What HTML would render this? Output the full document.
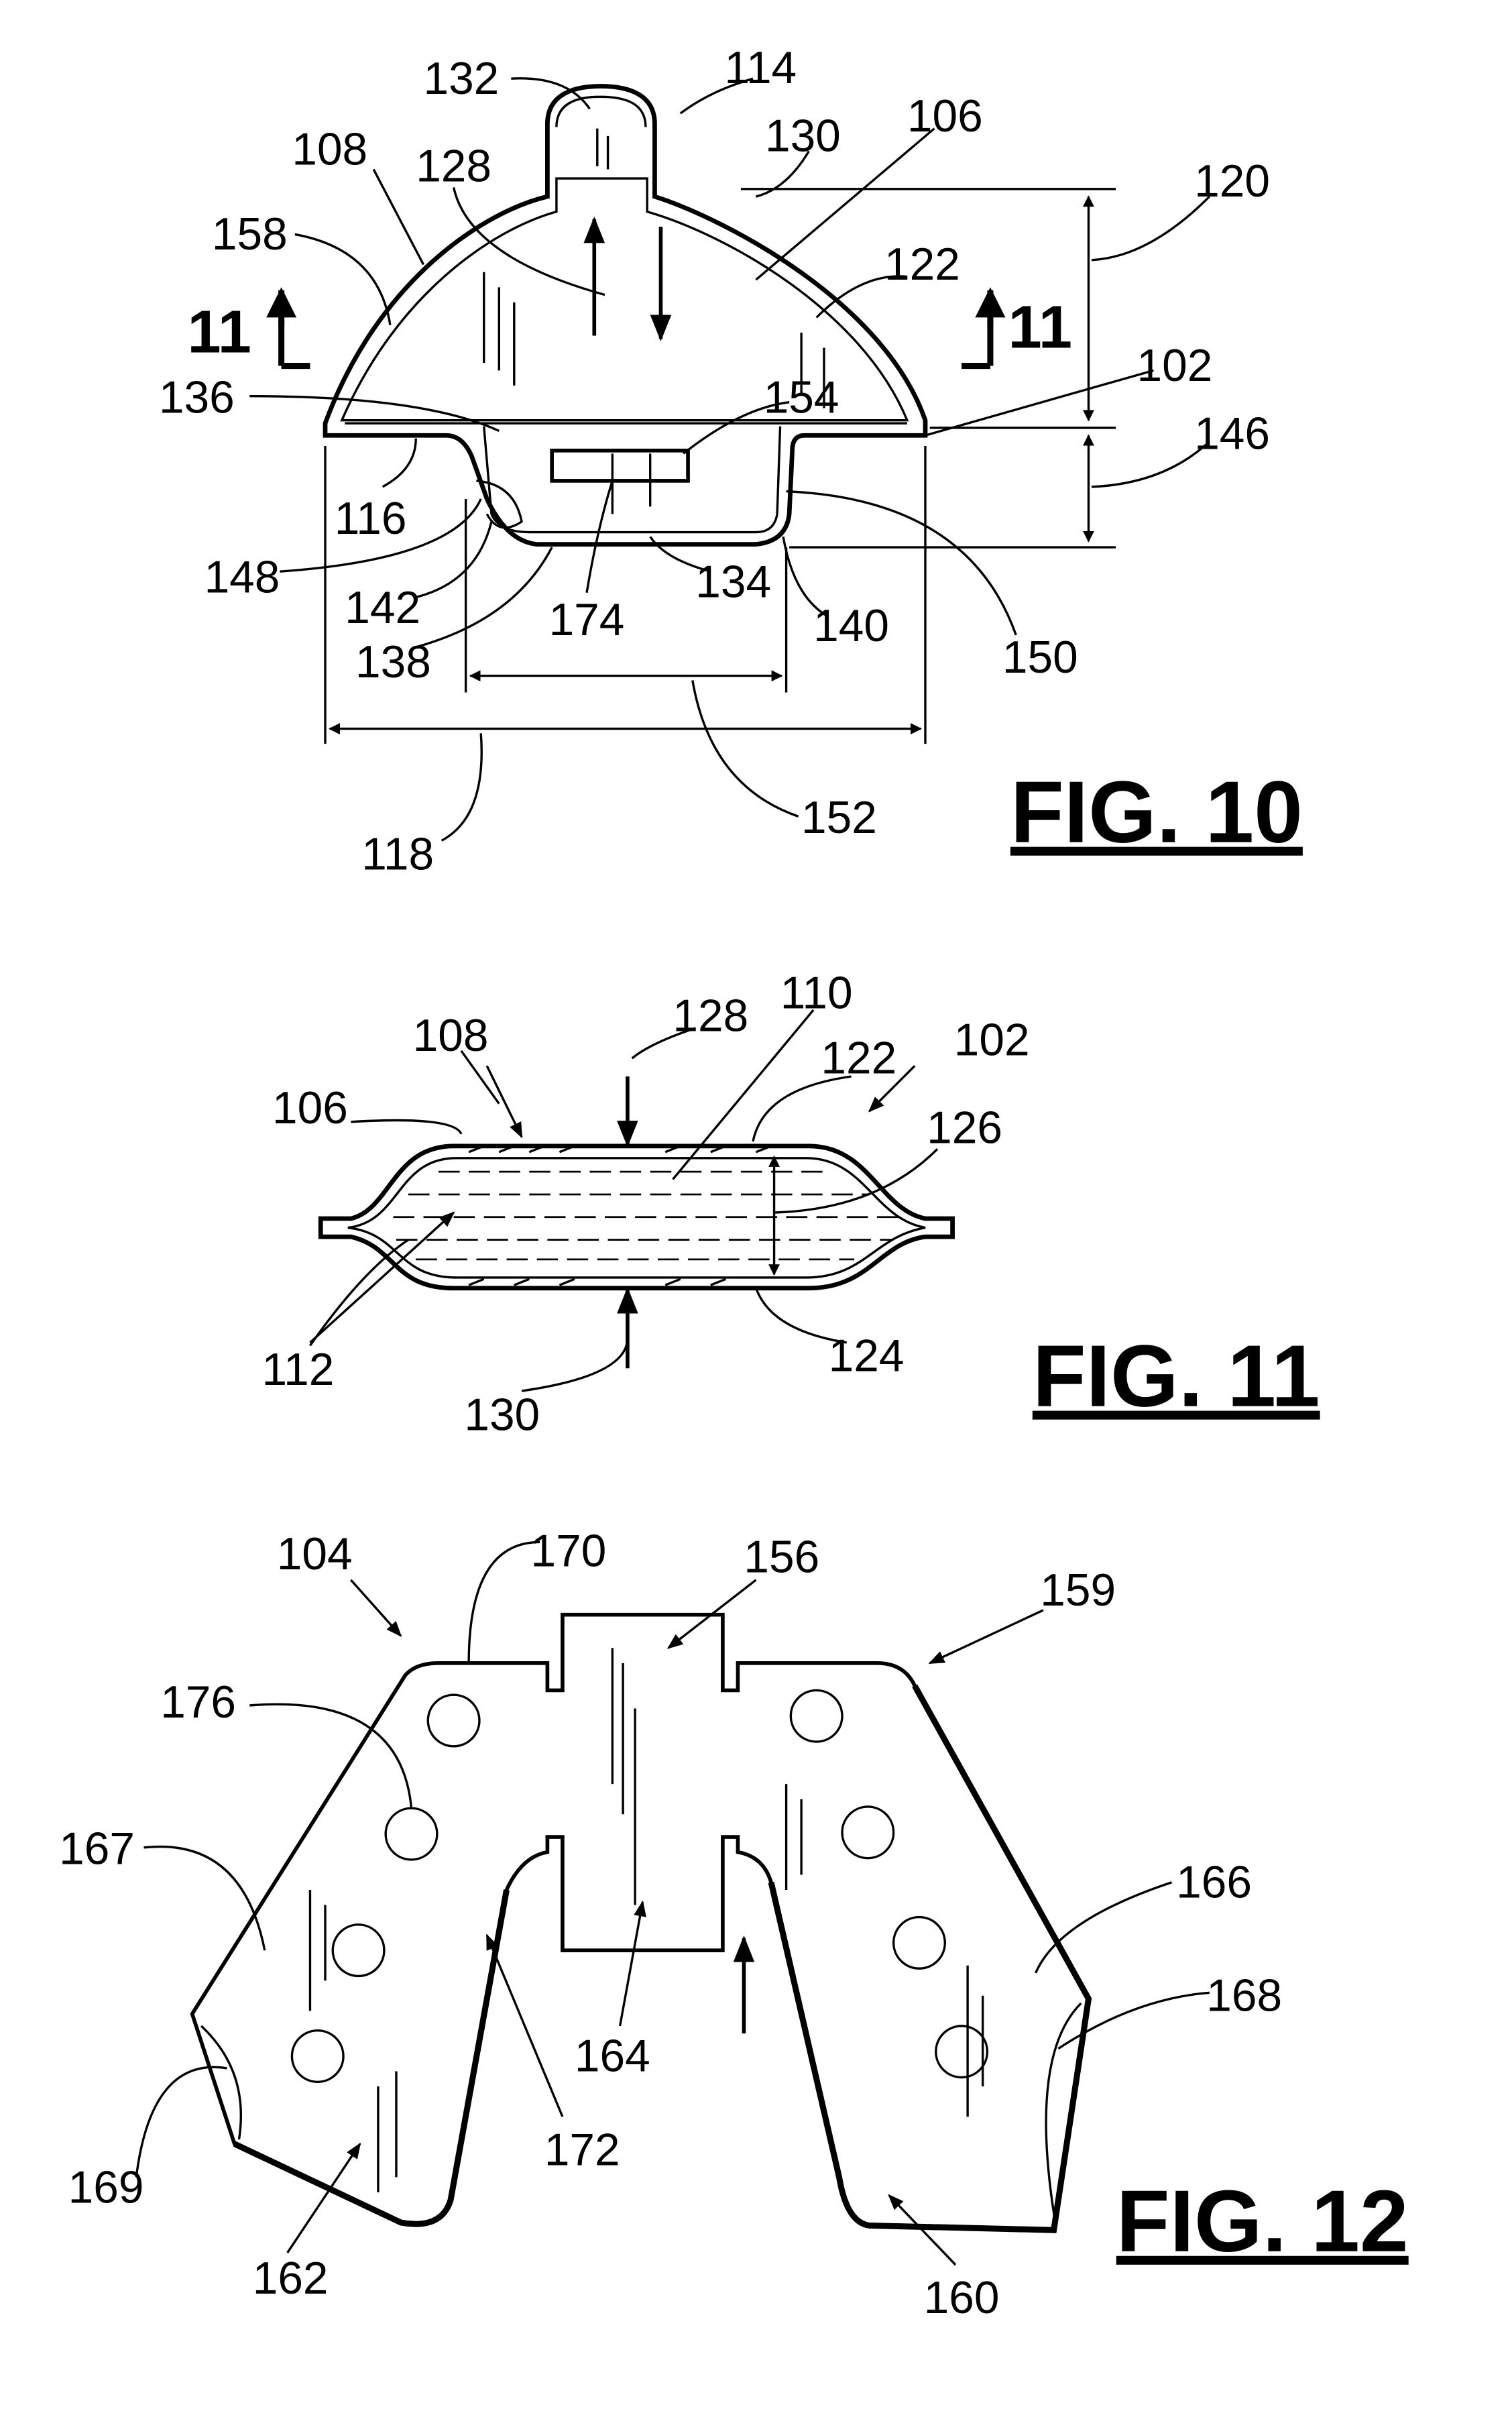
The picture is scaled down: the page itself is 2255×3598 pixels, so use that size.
<!DOCTYPE html>
<html><head><meta charset="utf-8"><style>
html,body{margin:0;padding:0;background:#fff;}
svg{display:block;}
text{font-family:"Liberation Sans",sans-serif;font-size:30px;fill:#000;}
.fig{font-weight:bold;font-size:58px;text-decoration:underline;}
.sec{font-weight:bold;font-size:40px;}
</style></head><body>
<svg width="2255" height="3598" viewBox="0 0 1000 1596" xmlns="http://www.w3.org/2000/svg">
<defs>
<marker id="ah" viewBox="0 0 10 10" refX="9" refY="5" markerWidth="7" markerHeight="7" orient="auto-start-reverse"><path d="M0,1 L10,5 L0,9 Z" fill="#000"/></marker>
<marker id="ab" viewBox="0 0 10 10" refX="9" refY="5" markerWidth="5" markerHeight="6" orient="auto-start-reverse"><path d="M0,0 L10,5 L0,10 Z" fill="#000"/></marker>
</defs>
<g fill="none" stroke="#000" stroke-width="1.5">
<path d="M215,288 L215,280 C250,185 320,140 362,130 L362,82 C362,62 380,57 397,57 C415,57 433,62 433,82 L433,130 C480,145 585,200 612,278 L612,288 L532,288 Q524,288 524,298 L522,340 Q520,358 500,360 L355,360 Q335,358 322,330 L312,302 Q306,288 295,288 Z" stroke-width="3"/>
<path d="M226,278 C262,195 325,152 368,140 L368,118 L428,118 L428,140 C480,155 570,205 600,278 Z"/>
<path d="M368,84 C368,68 382,64 397,64 C413,64 427,68 427,84"/>
<path d="M228,280 L600,280"/>
<path d="M320,282 L325,340 Q330,352 350,352 L500,352 Q512,352 514,340 L516,282"/>
<path d="M315,318 Q340,320 345,345 Q330,355 322,340"/>
<rect x="365" y="298" width="90" height="20" stroke-width="2.5"/>
<path d="M395,85 L395,110 M402,90 L402,112 M405,300 L405,340 M430,300 L430,335 M320,180 L320,240 M330,190 L330,245 M340,200 L340,255 M530,220 L530,260 M545,230 L545,270"/>
<line x1="393" y1="222" x2="393" y2="145" stroke-width="2.5" marker-end="url(#ah)"/>
<line x1="437" y1="150" x2="437" y2="224" stroke-width="2.5" marker-end="url(#ah)"/>
<path d="M186,242 L205,242 M186,242 L186,212" stroke-width="4"/>
<line x1="186" y1="215" x2="186" y2="192" stroke-width="4" marker-end="url(#ab)"/>
<path d="M655,242 L636,242 M655,242 L655,212" stroke-width="4"/>
<line x1="655" y1="215" x2="655" y2="192" stroke-width="4" marker-end="url(#ab)"/>
<path d="M490,125 L738,125 M615,283 L738,283 M522,362 L738,362"/>
<line x1="720" y1="130" x2="720" y2="278" marker-start="url(#ab)" marker-end="url(#ab)"/>
<line x1="720" y1="288" x2="720" y2="358" marker-start="url(#ab)" marker-end="url(#ab)"/>
<path d="M215,295 L215,492 M612,295 L612,492 M308,330 L308,458 M520,362 L520,458"/>
<line x1="311" y1="447" x2="517" y2="447" marker-start="url(#ab)" marker-end="url(#ab)"/>
<line x1="218" y1="482" x2="609" y2="482" marker-start="url(#ab)" marker-end="url(#ab)"/>
<path d="M338,52 Q375,50 390,72 M498,52 Q470,60 450,75 M535,100 Q520,125 500,130 M618,85 L500,185 M247,112 L280,175 M300,124 Q310,170 400,195 M800,130 Q760,170 722,172 M195,155 Q250,165 258,215 M600,183 Q570,180 540,210 M763,245 L612,288 M165,262 Q280,262 330,285 M522,266 Q490,270 452,300 M800,292 Q770,320 722,322 M253,322 Q275,310 275,290 M185,378 Q300,370 318,330 M275,395 Q315,385 325,345 M470,378 Q440,370 430,355 M388,392 Q395,350 405,318 M548,408 Q525,395 518,355 M275,428 Q340,410 365,362 M672,420 Q640,330 520,325 M528,540 Q470,520 458,450 M292,556 Q322,540 318,485"/>
<path d="M212,806 L212,818 L232,818 C262,825 260,852 300,852 L535,852 C575,852 582,822 612,818 L630,818 L630,806 L612,806 C582,800 575,758 535,758 L300,758 C260,758 258,800 232,806 Z" stroke-width="3"/>
<path d="M230,812 C265,808 262,766 302,766 L533,766 C572,766 578,806 612,812 C578,818 572,845 533,845 L302,845 C262,845 265,816 230,812 Z"/>
<g stroke-dasharray="14,6" stroke-width="1.2">
<path d="M290,775 L545,775 M270,790 L575,790 M260,805 L595,805 M262,820 L590,820 M275,833 L565,833"/>
</g>
<path d="M310,762 L320,758 M330,762 L340,758 M350,762 L360,758 M370,762 L380,758 M440,762 L450,758 M470,762 L480,758 M500,762 L510,758 M310,850 L320,846 M340,850 L350,846 M370,850 L380,846 M440,850 L450,846 M470,850 L480,846"/>
<line x1="415" y1="712" x2="415" y2="757" stroke-width="2.5" marker-end="url(#ah)"/>
<line x1="415" y1="905" x2="415" y2="853" stroke-width="2.5" marker-end="url(#ah)"/>
<line x1="512" y1="765" x2="512" y2="843" marker-start="url(#ab)" marker-end="url(#ab)"/>
<path d="M460,680 Q430,690 418,700 M538,668 L445,780 M305,695 L330,730 M563,712 Q505,720 498,755 M232,742 Q300,738 305,750 M620,760 Q580,800 512,802 M205,890 Q240,840 270,820 M560,888 Q510,880 500,852 M345,920 Q415,910 415,885"/>
<line x1="322" y1="705" x2="345" y2="752" stroke-width="1.5" marker-end="url(#ah)"/>
<line x1="605" y1="705" x2="575" y2="735" marker-end="url(#ah)"/>
<line x1="205" y1="888" x2="300" y2="802" marker-end="url(#ah)"/>
<path d="M127,1332 L268,1108 Q275,1100 290,1100 L362,1100 L362,1118 L372,1118 L372,1068 L478,1068 L478,1118 L488,1118 L488,1100 L580,1100 Q598,1100 605,1115 L720,1322 L697,1475 L575,1472 Q560,1470 555,1440 L510,1245 Q505,1228 488,1225 L488,1215 L478,1215 L478,1290 L372,1290 L372,1215 L362,1215 L362,1225 Q345,1228 335,1250 L298,1455 Q292,1475 265,1470 L155,1418 Z" stroke-width="2.5"/>
<path d="M605,1115 L720,1322 L697,1475 L575,1472 Q560,1470 555,1440 L510,1245 M155,1418 L265,1470 Q292,1475 298,1455 L335,1250" stroke-width="4"/>
<circle cx="300" cy="1138" r="17"/><circle cx="272" cy="1213" r="17"/><circle cx="237" cy="1290" r="17"/><circle cx="210" cy="1360" r="17"/>
<circle cx="540" cy="1135" r="17"/><circle cx="574" cy="1212" r="17"/><circle cx="608" cy="1285" r="17"/><circle cx="636" cy="1357" r="17"/>
<path d="M133,1340 Q165,1370 158,1415 M715,1325 Q680,1360 698,1470"/>
<path d="M405,1090 L405,1180 M412,1100 L412,1200 M420,1130 L420,1260 M205,1250 L205,1330 M215,1260 L215,1310 M250,1380 L250,1450 M262,1370 L262,1440 M640,1300 L640,1400 M650,1320 L650,1380 M520,1180 L520,1250 M530,1190 L530,1240"/>
<line x1="492" y1="1345" x2="492" y2="1282" stroke-width="2.5" marker-end="url(#ah)"/>
<line x1="232" y1="1045" x2="265" y2="1082" marker-end="url(#ah)"/>
<line x1="690" y1="1065" x2="615" y2="1100" marker-end="url(#ah)"/>
<line x1="500" y1="1045" x2="442" y2="1090" marker-end="url(#ah)"/>
<line x1="410" y1="1340" x2="425" y2="1258" marker-end="url(#ah)"/>
<line x1="372" y1="1400" x2="322" y2="1280" marker-end="url(#ah)"/>
<line x1="190" y1="1490" x2="238" y2="1418" marker-end="url(#ah)"/>
<line x1="632" y1="1498" x2="588" y2="1452" marker-end="url(#ah)"/>
<path d="M357,1020 Q310,1020 310,1100 M165,1128 Q265,1120 272,1196 M95,1222 Q160,1215 175,1290 M775,1245 Q700,1270 685,1305 M800,1318 Q750,1322 700,1355 M90,1440 Q100,1360 150,1368"/>
</g>
<g>
<text x="305" y="62" text-anchor="middle">132</text>
<text x="503" y="55" text-anchor="middle">114</text>
<text x="531" y="100" text-anchor="middle">130</text>
<text x="625" y="87" text-anchor="middle">106</text>
<text x="218" y="109" text-anchor="middle">108</text>
<text x="300" y="120" text-anchor="middle">128</text>
<text x="815" y="130" text-anchor="middle">120</text>
<text x="165" y="165" text-anchor="middle">158</text>
<text x="610" y="185" text-anchor="middle">122</text>
<text class="sec" x="145" y="233" text-anchor="middle">11</text>
<text class="sec" x="688" y="230" text-anchor="middle">11</text>
<text x="777" y="252" text-anchor="middle">102</text>
<text x="130" y="273" text-anchor="middle">136</text>
<text x="530" y="273" text-anchor="middle">154</text>
<text x="815" y="297" text-anchor="middle">146</text>
<text x="245" y="353" text-anchor="middle">116</text>
<text x="160" y="392" text-anchor="middle">148</text>
<text x="253" y="412" text-anchor="middle">142</text>
<text x="485" y="395" text-anchor="middle">134</text>
<text x="388" y="420" text-anchor="middle">174</text>
<text x="563" y="424" text-anchor="middle">140</text>
<text x="260" y="448" text-anchor="middle">138</text>
<text x="688" y="445" text-anchor="middle">150</text>
<text x="555" y="551" text-anchor="middle">152</text>
<text x="263" y="575" text-anchor="middle">118</text>
<text class="fig" x="765" y="557" text-anchor="middle">FIG. 10</text>
<text x="540" y="667" text-anchor="middle">110</text>
<text x="470" y="682" text-anchor="middle">128</text>
<text x="298" y="695" text-anchor="middle">108</text>
<text x="568" y="710" text-anchor="middle">122</text>
<text x="656" y="698" text-anchor="middle">102</text>
<text x="205" y="743" text-anchor="middle">106</text>
<text x="638" y="756" text-anchor="middle">126</text>
<text x="197" y="916" text-anchor="middle">112</text>
<text x="573" y="907" text-anchor="middle">124</text>
<text x="332" y="946" text-anchor="middle">130</text>
<text class="fig" x="778" y="930" text-anchor="middle">FIG. 11</text>
<text x="208" y="1038" text-anchor="middle">104</text>
<text x="376" y="1036" text-anchor="middle">170</text>
<text x="517" y="1040" text-anchor="middle">156</text>
<text x="713" y="1062" text-anchor="middle">159</text>
<text x="131" y="1136" text-anchor="middle">176</text>
<text x="64" y="1233" text-anchor="middle">167</text>
<text x="803" y="1255" text-anchor="middle">166</text>
<text x="823" y="1330" text-anchor="middle">168</text>
<text x="405" y="1370" text-anchor="middle">164</text>
<text x="385" y="1432" text-anchor="middle">172</text>
<text x="70" y="1457" text-anchor="middle">169</text>
<text x="192" y="1517" text-anchor="middle">162</text>
<text x="636" y="1530" text-anchor="middle">160</text>
<text class="fig" x="835" y="1489" text-anchor="middle">FIG. 12</text>
</g>
</svg>
</body></html>
